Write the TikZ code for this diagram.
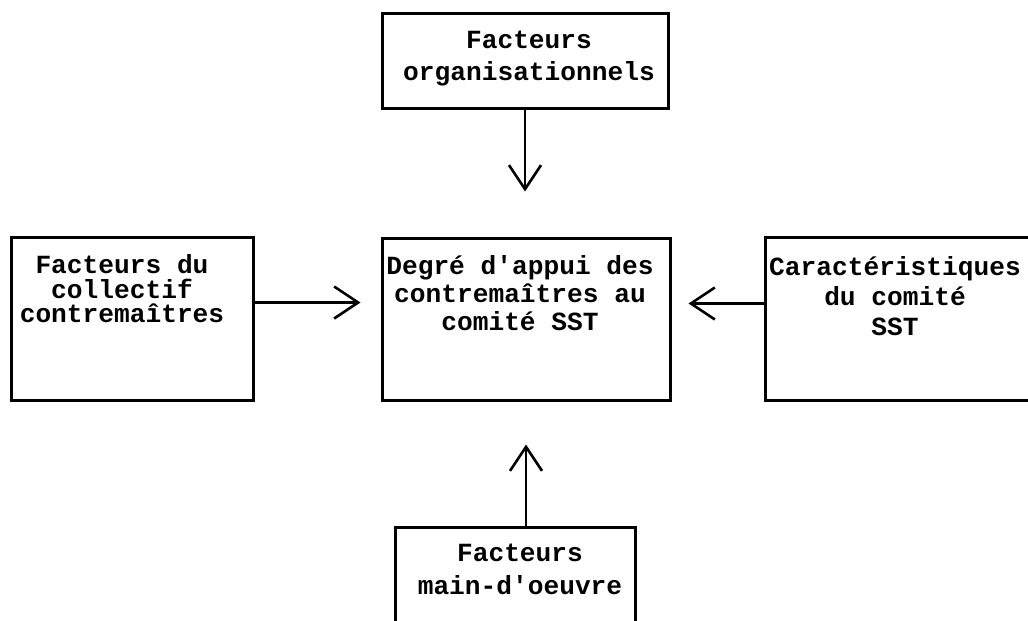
\documentclass[tikz,border=0pt]{standalone}
\usepackage{fontspec}
\setmonofont{Liberation Mono}
\usetikzlibrary{positioning,arrows.meta}
\tikzset{
  factor box/.style 2 args={
    draw,
    line width=1.5pt,
    minimum width={#1},
    minimum height={#2},
    inner sep=0pt,
  },
  box text/.style={
    font=\ttfamily\bfseries\fontsize{13.1}{#1}\selectfont,
    align=center,
    inner sep=0pt,
  },
  box text/.default=14pt,
  link/.style={
    line width=1.3pt,
    -{Straight Barb[length=12pt,width=16pt,line width=1.3pt]},
  }
}

\begin{document}
\begin{tikzpicture}[x=0.5pt,y=-0.5pt]
    \useasboundingbox (0,0) rectangle (1028,621);

    \node [factor box={143pt}{47.5pt}] (org) at (525,60.5) {};
    \node [factor box={121pt}{81.5pt}] (coll) at (132,318.5) {};
    \node [factor box={144pt}{81pt}] (centre) at (526,319) {};
    \node [factor box={140pt}{81.5pt}] (carac) at (905,318.5) {};
    \node [factor box={120pt}{61.5pt}] (main) at (515,588.5) {};

    \node [box text=16pt, below=9.5pt of org.north, xshift=2pt] (org text)
      {Facteurs\\organisationnels};
    \node [box text=12.25pt, below=9.5pt of coll.north, xshift=-5pt] (coll text)
      {Facteurs du\\collectif\\contremaîtres};
    \node [box text=14pt, below=9.5pt of centre.north, xshift=-3pt] (centre text)
      {Degré d'appui des\\contremaîtres au\\comité SST};
    \node [box text=15pt, below=10.5pt of carac.north, xshift=-5pt] (carac text)
      {Caractéristiques\\du comité\\SST};
    \node [box text=16.5pt, below=9pt of main.north, xshift=2.5pt] (main text)
      {Facteurs\\main-d'oeuvre};

    \draw [link, shorten >=22.5pt] (org) -- (org |- centre.north);
    \draw [link, shorten >=21.5pt] (centre |- main.north) -- (centre.south);
    \draw [link, shorten >=10pt] ([yshift=8pt]coll.east) -- ([yshift=8pt]coll.east -| centre.west);
    \draw [link, shorten >=8.5pt] ([yshift=7.5pt]carac.west) -- ([yshift=7.5pt]carac.west -| centre.east);
\end{tikzpicture}
\end{document}
